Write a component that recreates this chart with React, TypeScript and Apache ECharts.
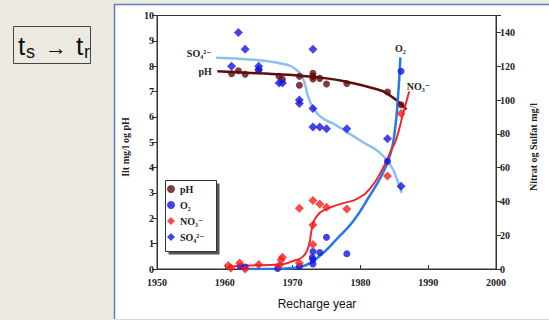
import React, { useEffect, useRef } from "react";
import * as echarts from "echarts";

// ---- scatter data (years / values) ----
const phYears = [1961, 1962, 1963, 1965, 1968, 1968.5, 1971, 1971, 1973, 1973, 1973, 1974, 1975, 1978, 1984, 1986];
const phValues = [7.7, 7.82, 7.68, 7.82, 7.6, 7.48, 7.6, 7.25, 7.72, 7.6, 7.5, 7.52, 7.3, 7.32, 6.98, 6.48];

const o2Years = [1962.3, 1963, 1967.8, 1971, 1972.9, 1973, 1973, 1973, 1974, 1975, 1978, 1984, 1986];
const o2Values = [0.1, 0.08, 0.02, 0.1, 0.45, 0.69, 0.37, 0.2, 0.65, 1.25, 0.6, 4.25, 7.8];

const no3Years = [1960.5, 1960.9, 1962.2, 1963, 1965, 1968, 1968.3, 1968.5, 1971, 1971, 1973, 1973, 1973, 1974, 1975, 1978, 1984, 1986];
const no3Values = [2, 0.6, 3.5, 0, 2.7, 2, 5.5, 7, 3.5, 36, 40.5, 26, 14.5, 38.5, 36.5, 35.5, 55, 92];

const so4Years = [1961, 1962, 1963, 1965, 1965, 1968, 1968.5, 1971, 1971, 1973, 1973, 1973, 1974, 1975, 1978, 1984, 1986];
const so4Values = [120, 140, 130, 120, 118, 110, 110, 100, 98, 130, 95, 84, 84, 83, 83, 77, 49];

// ---- fitted curves ----
const phCurveYears = [1958.9, 1965, 1970, 1975, 1978, 1982, 1984, 1986.8];
const phCurveValues = [7.8, 7.72, 7.65, 7.52, 7.38, 7.12, 6.92, 6.3];

const so4CurveYears = [1958.7, 1965, 1969, 1970.5, 1971.5, 1972.3, 1973.1, 1974.5, 1976, 1978, 1980.4, 1982.8, 1984.5, 1985.4, 1986.1];
const so4CurveValues = [125, 123.5, 121, 118, 113, 102, 95, 89, 86, 81, 75, 69, 61, 53, 45];

const o2CurveYears = [1962, 1966, 1969, 1971, 1972.5, 1974.5, 1976.4, 1978.9, 1981.3, 1983.3, 1984.5, 1985.1, 1985.5, 1985.9];
const o2CurveValues = [0, 0, 0.02, 0.08, 0.22, 0.63, 1.15, 1.87, 2.86, 3.78, 4.6, 5.5, 6.6, 8.35];

const no3CurveYears = [1960.5, 1963, 1968, 1970, 1971.6, 1972.4, 1972.9, 1973.6, 1975, 1977.5, 1979.5, 1981.5, 1983.3, 1984.5, 1985.3, 1986.3, 1987.2];
const no3CurveValues = [1.2, 2, 2.6, 4.6, 7.6, 14, 25, 31.5, 35.5, 39, 41.5, 48, 59.5, 70, 77, 92, 105];

// ---- axes ----
const xMin = 1950, xMax = 2000, xStep = 10;
const leftMin = 0, leftMax = 10, leftStep = 1;
const rightMin = 0, rightMax = 150, rightStep = 20;

const seriesNames = ["pH", "O₂", "NO₃⁻", "SO₄²⁻"];

const SERIF = '"Liberation Serif", "DejaVu Serif", serif';
const SANS = '"Liberation Sans", Arial, sans-serif';

const zip = (xs: number[], ys: number[]) => xs.map((x, i) => [x, ys[i]]);

const withLabel = (xs: number[], ys: number[], idx: number, label: any) =>
  xs.map((x, i) =>
    i === idx ? { value: [x, ys[i]], label: { show: true, ...label } } : { value: [x, ys[i]], label: { show: false } }
  );

const curveLabelStyle = { fontFamily: SERIF, fontWeight: "bold", fontSize: 10, color: "#222" };

export default function App() {
  const ref = useRef<HTMLDivElement>(null);
  useEffect(() => {
    if (!ref.current) return;
    const chart = echarts.init(ref.current, undefined, { renderer: "svg" });
    const axisLine = { show: true, lineStyle: { color: "#333", width: 1 } };
    const axisLabel = { fontFamily: SERIF, fontWeight: "bold", fontSize: 10, color: "#222" };
    const curve = (name: string, data: any, color: string, width: number, yAxisIndex: number) => ({
      type: "line",
      name,
      data,
      yAxisIndex,
      smooth: 0.5,
      showSymbol: true,
      symbol: "circle",
      symbolSize: 1,
      lineStyle: { color, width },
      itemStyle: { color: "rgba(0,0,0,0)" },
      emphasis: { disabled: true },
      silent: true,
      z: 2,
    });
    chart.setOption({
      animation: false,
      backgroundColor: "#ECEAE0",
      grid: { left: 157, right: 53, top: 15.5, bottom: 51, show: true, borderColor: "#333", borderWidth: 1, backgroundColor: "transparent" },
      xAxis: {
        type: "value",
        min: xMin,
        max: xMax,
        interval: xStep,
        axisLine,
        axisTick: { show: true, inside: true, length: 4, lineStyle: { color: "#333" } },
        axisLabel: { ...axisLabel, margin: 8, formatter: (v: number) => String(v) },
        splitLine: { show: false },
      },
      yAxis: [
        {
          type: "value",
          min: leftMin,
          max: leftMax,
          interval: leftStep,
          position: "left",
          axisLine,
          axisTick: { show: true, inside: false, length: 5, lineStyle: { color: "#333" } },
          axisLabel: { ...axisLabel, margin: 3 },
          splitLine: { show: false },
        },
        {
          type: "value",
          min: rightMin,
          max: rightMax,
          interval: rightStep,
          position: "right",
          axisLine,
          axisTick: { show: true, inside: false, length: 5, lineStyle: { color: "#333" } },
          axisLabel: { ...axisLabel, margin: 4, formatter: (v: number) => (v === rightMax ? "" : String(v)) },
          splitLine: { show: false },
        },
      ],
      legend: {
        orient: "vertical",
        left: 167,
        top: 183,
        padding: 0,
        itemWidth: 8,
        itemHeight: 8,
        itemGap: 4,
        textStyle: { fontFamily: SERIF, fontWeight: "bold", fontSize: 10, color: "#222", lineHeight: 12 },
        data: [
          { name: seriesNames[0], icon: "circle" },
          { name: seriesNames[1], icon: "circle" },
          { name: seriesNames[2], icon: "diamond" },
          { name: seriesNames[3], icon: "diamond" },
        ],
        z: 5,
      },
      graphic: [
        { type: "rect", z: -10, shape: { x: 114, y: 4, width: 440, height: 315 }, style: { fill: "#ffffff" } },
        { type: "line", z: -9, shape: { x1: 114.5, y1: 4, x2: 114.5, y2: 319 }, style: { stroke: "#5B80B8", lineWidth: 1.5 } },
        { type: "line", z: -9, shape: { x1: 114, y1: 4.5, x2: 549, y2: 4.5 }, style: { stroke: "#5B80B8", lineWidth: 1.5 } },
        { type: "line", z: -9, shape: { x1: 114, y1: 319.5, x2: 549, y2: 319.5 }, style: { stroke: "#D8D8D8", lineWidth: 1 } },
        // t_s -> t_r box
        { type: "rect", shape: { x: 13.5, y: 26.5, width: 77, height: 37 }, style: { fill: "none", stroke: "#444", lineWidth: 1 } },
        { type: "text", x: 18, y: 46, style: { text: "t", font: `26px ${SANS}`, fill: "#111", textVerticalAlign: "middle" } },
        { type: "text", x: 26, y: 52, style: { text: "s", font: `18px ${SANS}`, fill: "#111", textVerticalAlign: "middle" } },
        { type: "text", x: 45, y: 47, style: { text: "→", font: `22px ${SANS}`, fill: "#111", textVerticalAlign: "middle" } },
        { type: "text", x: 76, y: 46, style: { text: "t", font: `26px ${SANS}`, fill: "#111", textVerticalAlign: "middle" } },
        { type: "text", x: 84, y: 52, style: { text: "r", font: `18px ${SANS}`, fill: "#111", textVerticalAlign: "middle" } },
        // axis titles
        { type: "text", x: 125, y: 147, rotation: Math.PI / 2, style: { text: "Ilt mg/l og pH", font: `bold 10px ${SERIF}`, fill: "#222", textAlign: "center", textVerticalAlign: "middle" } },
        { type: "text", x: 533, y: 147, rotation: Math.PI / 2, style: { text: "Nitrat og Sulfat mg/l", font: `bold 10px ${SERIF}`, fill: "#222", textAlign: "center", textVerticalAlign: "middle" } },
        { type: "text", x: 317, y: 304, style: { text: "Recharge year", font: `12px ${SANS}`, fill: "#111", textAlign: "center", textVerticalAlign: "middle" } },
        // legend box + shadow
        { type: "rect", z: 3, shape: { x: 168.5, y: 183.5, width: 51, height: 71 }, style: { fill: "#555" } },
        { type: "rect", z: 3.5, shape: { x: 165.5, y: 180.5, width: 51, height: 71 }, style: { fill: "#fff", stroke: "#333", lineWidth: 1 } },
      ],
      series: [
        curve("so4Curve", withLabel(so4CurveYears, so4CurveValues, 0, { position: "left", distance: 4, offset: [0, -4], formatter: "SO₄²⁻", ...curveLabelStyle }), "#8CC0EE", 2.5, 1),
        curve("phCurve", withLabel(phCurveYears, phCurveValues, 0, { position: "left", distance: 5, formatter: "pH", ...curveLabelStyle }), "#5A0E0E", 2.5, 0),
        curve("o2Curve", withLabel(o2CurveYears, o2CurveValues, o2CurveYears.length - 1, { position: "top", distance: 3, formatter: "O₂", ...curveLabelStyle }), "#2479E6", 2.5, 0),
        curve("no3Curve", withLabel(no3CurveYears, no3CurveValues, no3CurveYears.length - 1, { position: "right", distance: 4, offset: [-7, -5], formatter: "NO₃⁻", ...curveLabelStyle }), "#F02828", 2, 1),
        { type: "scatter", name: seriesNames[0], data: zip(phYears, phValues), yAxisIndex: 0, symbol: "circle", symbolSize: 7, itemStyle: { color: "#620A0A" }, z: 3 },
        { type: "scatter", name: seriesNames[1], data: zip(o2Years, o2Values), yAxisIndex: 0, symbol: "circle", symbolSize: 7, itemStyle: { color: "#1414E6" }, z: 3 },
        { type: "scatter", name: seriesNames[2], data: zip(no3Years, no3Values), yAxisIndex: 1, symbol: "diamond", symbolSize: 9, itemStyle: { color: "#F21E1E" }, z: 3 },
        { type: "scatter", name: seriesNames[3], data: zip(so4Years, so4Values), yAxisIndex: 1, symbol: "diamond", symbolSize: 9, itemStyle: { color: "#1717E0" }, z: 3 },
      ],
    });
    return () => chart.dispose();
  }, []);
  return <div ref={ref} style={{ position: "absolute", left: 0, top: 0, width: 549, height: 320 }} />;
}
